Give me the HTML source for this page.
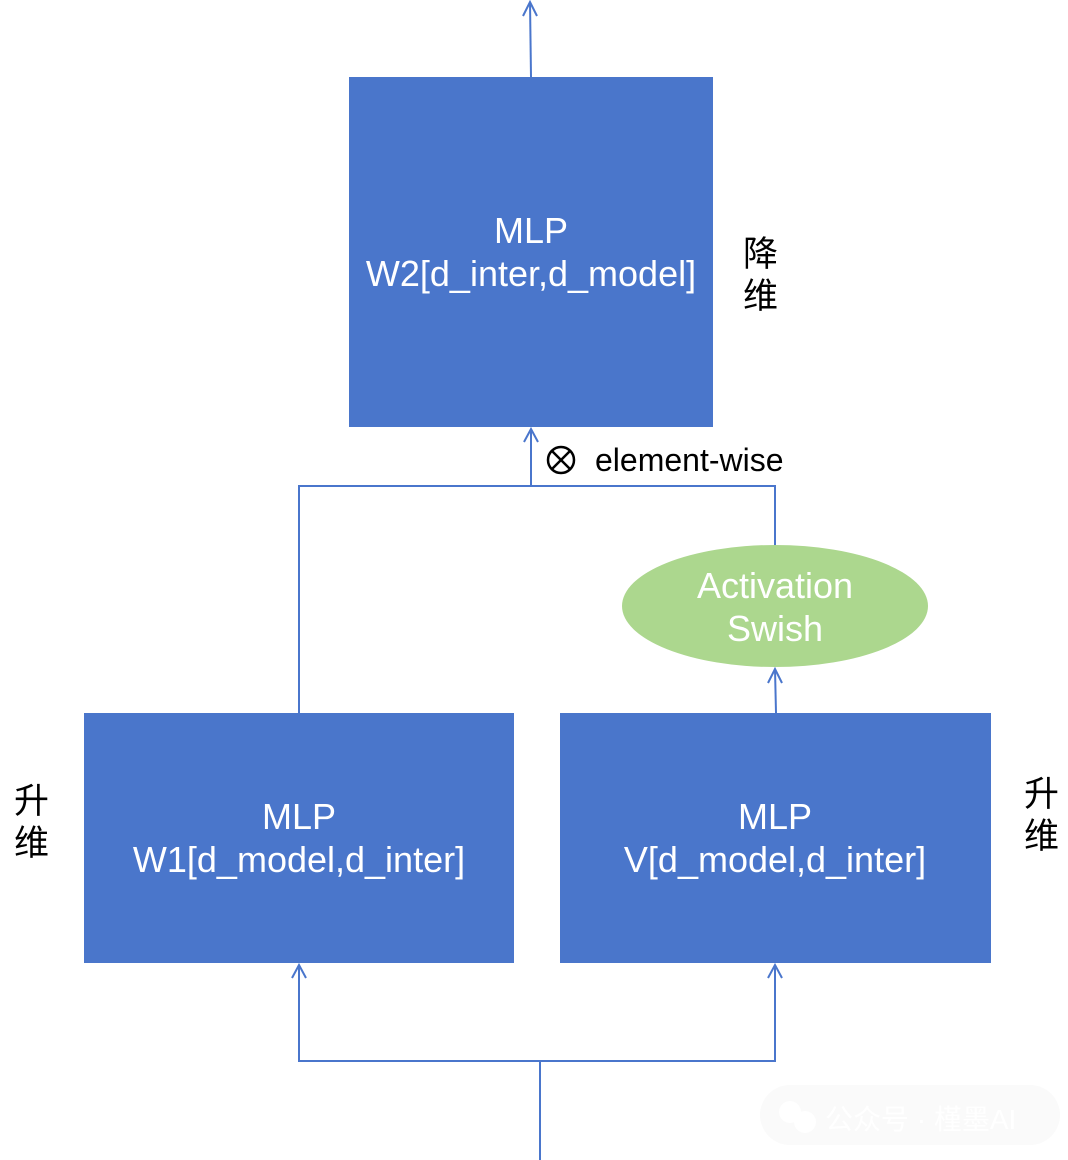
<!DOCTYPE html>
<html><head><meta charset="utf-8"><style>
html,body{margin:0;padding:0;background:#fff;}
svg{display:block;}
text{font-family:"Liberation Sans","Noto Sans CJK SC",sans-serif;}
</style></head><body>
<svg width="1068" height="1160" viewBox="0 0 1068 1160" xmlns="http://www.w3.org/2000/svg">
<g stroke="#4a76cc" stroke-width="2" fill="none">
<line x1="531" y1="77" x2="530" y2="2"/>
<polyline points="523,16 530,2 537,16"/>
<line x1="531" y1="486" x2="531" y2="429"/>
<polyline points="524,442 531,429 538,442"/>
<polyline points="299,713 299,486 775,486 775,546"/>
<line x1="776" y1="713" x2="775" y2="669"/>
<polyline points="768,683 775,669 782,683"/>
<line x1="540" y1="1160" x2="540" y2="1061"/>
<polyline points="299,965 299,1061 775,1061 775,965"/>
<polyline points="292,978 299,965 306,978"/>
<polyline points="768,978 775,965 782,978"/>
</g>
<rect x="349" y="77" width="364" height="350" fill="#4a76cb"/>
<rect x="84" y="713" width="430" height="250" fill="#4a76cb"/>
<rect x="560" y="713" width="431" height="250" fill="#4a76cb"/>
<ellipse cx="775" cy="606" rx="153" ry="61" fill="#acd78e"/>
<g fill="#fff" font-size="36" text-anchor="middle">
<text x="531" y="243">MLP</text>
<text x="531" y="286">W2[d_inter,d_model]</text>
<text x="299" y="829">MLP</text>
<text x="299" y="872">W1[d_model,d_inter]</text>
<text x="775" y="829">MLP</text>
<text x="775" y="872">V[d_model,d_inter]</text>
<text x="775" y="598">Activation</text>
<text x="775" y="641">Swish</text>
</g>
<g fill="#000" font-size="35">
<text x="743" y="266">降</text>
<text x="743" y="308">维</text>
<text x="14" y="813">升</text>
<text x="14" y="855">维</text>
<text x="1024" y="806">升</text>
<text x="1024" y="848">维</text>
</g>
<circle cx="561" cy="460" r="13" fill="none" stroke="#000" stroke-width="2.5"/>
<line x1="552" y1="451" x2="570" y2="469" stroke="#000" stroke-width="2.5"/>
<line x1="570" y1="451" x2="552" y2="469" stroke="#000" stroke-width="2.5"/>
<text x="595" y="471" font-size="32" fill="#000">element-wise</text>
<rect x="760" y="1085" width="300" height="60" rx="30" fill="#fafafa"/>
<text x="825" y="1129" font-size="28" fill="#ffffff">公众号 · 槿墨AI</text>
<circle cx="790" cy="1112" r="11" fill="#fff"/>
<circle cx="805" cy="1122" r="11" fill="#fff"/>
</svg>
</body></html>
